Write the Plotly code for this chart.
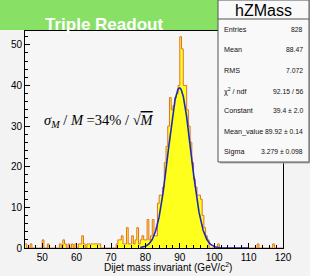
import numpy as np
import plotly.graph_objects as go

# ---- data -------------------------------------------------------------
bin_start = 45.0
bin_width = 0.5
counts = [
    1, 0, 0, 1, 0, 0, 0, 0, 0, 0,        # 45.0 - 49.5
    2, 0, 0, 1, 0, 0, 0, 0, 0, 0,        # 50.0 - 54.5
    1, 0, 2, 1, 0, 1, 0, 1, 0, 1,        # 55.0 - 59.5
    0, 1, 1, 3, 1, 0, 1, 1, 1, 1,        # 60.0 - 64.5
    1, 1, 1, 1, 0, 0, 0, 0, 0, 0,        # 65.0 - 69.5
    0, 0, 0, 1, 2, 2, 3, 1, 1, 5,        # 70.0 - 74.5
    1, 1, 3, 1, 2, 5, 1, 2, 3, 2,        # 75.0 - 79.5
    2, 7, 2, 3, 7, 3, 3, 11, 13, 13,     # 80.0 - 84.5
    15, 21, 25, 30, 37, 34, 35, 37, 38, 40,  # 85.0 - 89.5
    52, 49, 40, 40, 34, 30, 26, 21, 17, 15,  # 90.0 - 94.5
    13, 13, 12, 8, 5, 3, 2, 0, 0, 0,     # 95.0 - 99.5
    0, 0, 1, 0, 0, 0, 0, 0, 0, 0,        # 100.0 - 104.5
    0, 0, 0, 0, 0, 0, 0, 0, 0, 0,        # 105.0 - 109.5
    0, 0, 0, 0, 0, 1, 0, 0, 0, 0,        # 110.0 - 114.5
    0, 0, 0, 0, 1, 0, 0, 0, 0, 0,        # 115.0 - 119.5
]

fit_constant = 39.4
fit_mean = 89.92
fit_sigma = 3.279
fit_range = [78.5, 110.0]

stat_labels = ["Entries", "Mean", "RMS", "χ<sup>2</sup> / ndf", "Constant", "Mean_value", "Sigma"]
stat_values = ["828", "88.47", "7.072", "92.15 / 56", "39.4 ± 2.0", "89.92 ± 0.14", "3.279 ± 0.098"]

x_ticks = [50, 60, 70, 80, 90, 100, 110, 120]
y_ticks = [0, 10, 20, 30, 40, 50]

# ---- geometry helpers ---------------------------------------------------
W, H = 310, 276
ML, MR, MT, MB = 25, 27, 31, 28
PW, PH = W - ML - MR, H - MT - MB


def px(x):
    return (x - ML) / PW


def py(y):
    return (H - MB - y) / PH


edges = [bin_start + bin_width * i for i in range(len(counts) + 1)]
step_y = list(counts) + [counts[-1]]

xf = np.linspace(fit_range[0], fit_range[1], 400)
yf = fit_constant * np.exp(-0.5 * ((xf - fit_mean) / fit_sigma) ** 2)

fig = go.Figure()
fig.add_trace(go.Scatter(
    x=edges, y=step_y, mode="lines", line_shape="hv",
    line=dict(color="#e0702c", width=1),
    fill="tozeroy", fillcolor="#ffff1e", hoverinfo="skip",
))
fig.add_trace(go.Scatter(
    x=xf, y=yf, mode="lines", line=dict(color="#1c2cb8", width=1.6),
    hoverinfo="skip",
))

font = "Liberation Sans, Arial, Helvetica, sans-serif"
axis_common = dict(
    showgrid=False, zeroline=False, showline=True, linecolor="black",
    linewidth=1, mirror=True, ticks="inside", ticklen=5, tickwidth=1,
    tickcolor="black", tickfont=dict(family=font, size=10, color="black"),
)
fig.update_xaxes(range=[45, 120], tickvals=x_ticks,
                 minor=dict(ticks="inside", ticklen=3, dtick=2, tickcolor="black"),
                 **axis_common)
fig.update_yaxes(range=[0, 53.4], tickvals=y_ticks,
                 minor=dict(ticks="inside", ticklen=3, dtick=2, tickcolor="black"),
                 **axis_common)

shapes = []
# green title band
shapes.append(dict(type="rect", xref="paper", yref="paper",
                   x0=px(-2), x1=px(W + 2), y0=py(30), y1=py(-2),
                   fillcolor="#88e065", line=dict(width=0), layer="below"))
# stats box shadow
shapes.append(dict(type="rect", xref="paper", yref="paper",
                   x0=px(220), x1=px(W + 2), y0=py(163.5), y1=py(2),
                   fillcolor="#b0b0b0", line=dict(width=0)))
# stats box
shapes.append(dict(type="rect", xref="paper", yref="paper",
                   x0=px(218), x1=px(309), y0=py(162), y1=py(0),
                   fillcolor="#f9f9f9", line=dict(color="#555555", width=1)))
shapes.append(dict(type="line", xref="paper", yref="paper",
                   x0=px(218), x1=px(309), y0=py(19), y1=py(19),
                   line=dict(color="#555555", width=1)))

annotations = []
annotations.append(dict(xref="paper", yref="paper", x=px(103.5), y=py(24),
                        text="<b>Triple Readout</b>", showarrow=False,
                        xanchor="center", yanchor="middle",
                        font=dict(family=font, size=17, color="white")))
annotations.append(dict(xref="paper", yref="paper", x=px(263.5), y=py(10.5),
                        text="hZMass", showarrow=False,
                        xanchor="center", yanchor="middle",
                        font=dict(family=font, size=16, color="black")))
row_y = [29, 50, 70, 91, 111, 131, 151]
for lab, val, yy in zip(stat_labels, stat_values, row_y):
    annotations.append(dict(xref="paper", yref="paper", x=px(221.5), y=py(yy),
                            text=lab, showarrow=False, xanchor="left", yanchor="middle",
                            font=dict(family=font, size=7.2, color="#111")))
    annotations.append(dict(xref="paper", yref="paper", x=px(305), y=py(yy),
                            text=val, showarrow=False, xanchor="right", yanchor="middle",
                            font=dict(family=font, size=6.8, color="#111")))
annotations.append(dict(
    xref="paper", yref="paper", x=px(42), y=py(121),
    text=("<i>σ<sub>M</sub></i> / <i>M</i> =34% / √"
          "<span style='text-decoration:overline'><i>M</i></span>"),
    showarrow=False, xanchor="left", yanchor="middle",
    font=dict(family="Liberation Serif, Times New Roman, serif", size=14.5, color="black")))
annotations.append(dict(xref="paper", yref="paper", x=px(167.5), y=py(266.5),
                        text="Dijet mass invariant (GeV/c<sup>2</sup>)", showarrow=False,
                        xanchor="center", yanchor="middle",
                        font=dict(family=font, size=10, color="black")))

fig.update_layout(
    width=W, height=H, margin=dict(l=ML, r=MR, t=MT, b=MB, pad=0),
    paper_bgcolor="#f3f3f3", plot_bgcolor="#f6f6f6",
    showlegend=False, shapes=shapes, annotations=annotations,
)

fig.write_html(
    "out.html",
    config={"displayModeBar": False},
    post_script="document.body.style.margin='0';document.body.style.overflow='hidden';",
)
